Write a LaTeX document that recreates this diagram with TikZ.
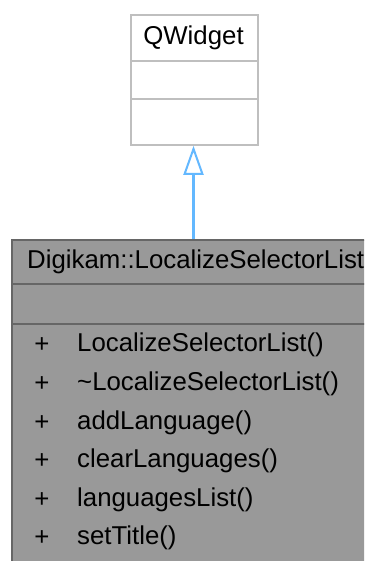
\documentclass[tikz,border=0pt]{standalone}
\usepackage{fontspec}
\setmainfont{Liberation Sans}
\usetikzlibrary{arrows.meta}
\definecolor{qborder}{HTML}{BFBFBF}
\definecolor{lfill}{HTML}{999999}
\definecolor{lborder}{HTML}{666666}
\definecolor{inh}{HTML}{63B8FF}
\tikzset{
  qbox/.style={draw=qborder, fill=white, line width=1.8pt, inner sep=0pt, anchor=north west},
  lbox/.style={draw=lborder, fill=lfill, line width=1.8pt, inner sep=0pt, anchor=north west},
  qsep/.style={draw=qborder, line width=1.8pt},
  lsep/.style={draw=lborder, line width=1.8pt},
  txt/.style={inner sep=0pt, font=\fontsize{25.8}{30}\selectfont, text=black},
  inherit/.style={draw=inh, color=inh, line width=2.2pt, -{Triangle[open, length=29pt, width=20pt, line width=2pt]}}
}
\begin{document}
\begin{tikzpicture}[x=1pt,y=-1pt]
\useasboundingbox (0,0) rectangle (364,561);
\clip (0,0) rectangle (364,561);
\fill[white] (0,0) rectangle (364,561);
% QWidget
\node[qbox, minimum width=127pt, minimum height=130pt] (qw) at (130,14) {};
\draw[qsep] (130,61) -- (257,61);
\draw[qsep] (130,99) -- (257,99);
\node[txt] (qwt) at (193.5,38) {QWidget};
% Digikam::LocalizeSelectorList
\node[lbox, minimum width=380pt, minimum height=340pt] (lsl) at (11,239) {};
\draw[lsep] (11,284) -- (391,284);
\draw[lsep] (11,324) -- (391,324);
\node[txt, anchor=west] (lslt) at (27,262) {Digikam::LocalizeSelectorList};
\foreach \y/\n/\t in {345/m1/LocalizeSelectorList(), 384/m2/\textasciitilde LocalizeSelectorList(), 423/m3/addLanguage(), 461/m4/clearLanguages(), 500/m5/languagesList(), 538/m6/setTitle()} {
  \node[txt] (p\n) at (42,\y) {+};
  \node[txt, anchor=west] (\n) at (77,\y) {\t};
}
% inheritance arrow
\coordinate (astart) at (193.5,239);
\draw[inherit] (astart) -- (qw.south -| astart);
\end{tikzpicture}
\end{document}
